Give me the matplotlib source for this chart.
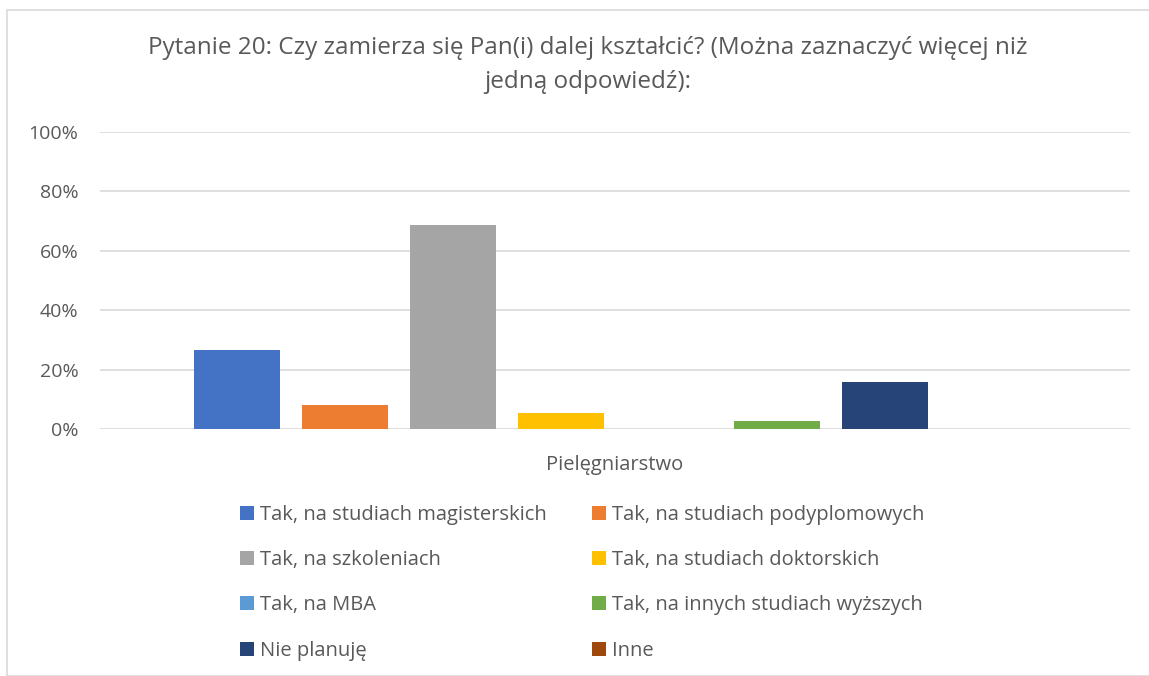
import matplotlib.pyplot as plt
import matplotlib.patches as mpatches
import numpy as np

#%% data
category = "Pielęgniarstwo"
series_labels = ["Tak, na studiach magisterskich", "Tak, na studiach podyplomowych",
                 "Tak, na szkoleniach", "Tak, na studiach doktorskich",
                 "Tak, na MBA", "Tak, na innych studiach wyższych",
                 "Nie planuję", "Inne"]
values = [0.266, 0.081, 0.687, 0.054, 0.0, 0.027, 0.158, 0.0]
colors = ["#4472C4", "#ED7D31", "#A5A5A5", "#FFC000",
          "#5B9BD5", "#70AD47", "#264478", "#9E480E"]
yticks = [0, 0.2, 0.4, 0.6, 0.8, 1.0]
title = "Pytanie 20: Czy zamierza się Pan(i) dalej kształcić? (Można zaznaczyć więcej niż\njedną odpowiedź):"

plt.rcParams['font.family'] = ['Open Sans', 'DejaVu Sans']
txt = "#595959"

#%% plot
fig = plt.figure(figsize=(11.49, 6.76), dpi=100)
fig.patches.append(mpatches.Rectangle((7/1149, 0), 1.2, 1 - 10/676, transform=fig.transFigure,
                                      fill=False, edgecolor="#d9d9d9", linewidth=1.2))
ax = fig.add_axes([100/1149, 1 - 429/676, 1030/1149, (429 - 132)/676])

slot = 108/1030
bw = 86/1030
n = len(values)
for i, (v, c, lab) in enumerate(zip(values, colors, series_labels)):
    ax.bar((i - (n - 1)/2) * slot, v, width=bw, color=c, label=lab, zorder=3)

ax.set_xlim(-0.5, 0.5)
ax.set_ylim(0, 1)
ax.set_yticks(yticks)
ax.set_yticklabels(["%d%%" % round(t*100) for t in yticks], fontsize=14, color=txt)
ax.set_xticks([0])
ax.set_xticklabels([category], fontsize=14.5, color=txt)
ax.tick_params(length=0, axis='y', pad=15.5)
ax.tick_params(length=0, axis='x', pad=19)
for s in ax.spines.values():
    s.set_visible(False)
ax.grid(axis='y', color="#d9d9d9", linewidth=1.2, zorder=0)

fig.text(588/1149, 1 - 65/676, title, ha='center', va='center', fontsize=17.5,
         color=txt, linespacing=1.6)

h, l = ax.get_legend_handles_labels()
order = [0, 2, 4, 6, 1, 3, 5, 7]
leg = fig.legend([h[i] for i in order], [l[i] for i in order], ncol=2,
                 loc='upper left', bbox_to_anchor=(222/1149, 1 - 487/676),
                 frameon=False, fontsize=14.5, handlelength=0.7, handleheight=0.7,
                 handletextpad=0.3, columnspacing=2.25, labelspacing=1.25,
                 labelcolor=txt)

fig.savefig("out.png", dpi=100, facecolor="white")
